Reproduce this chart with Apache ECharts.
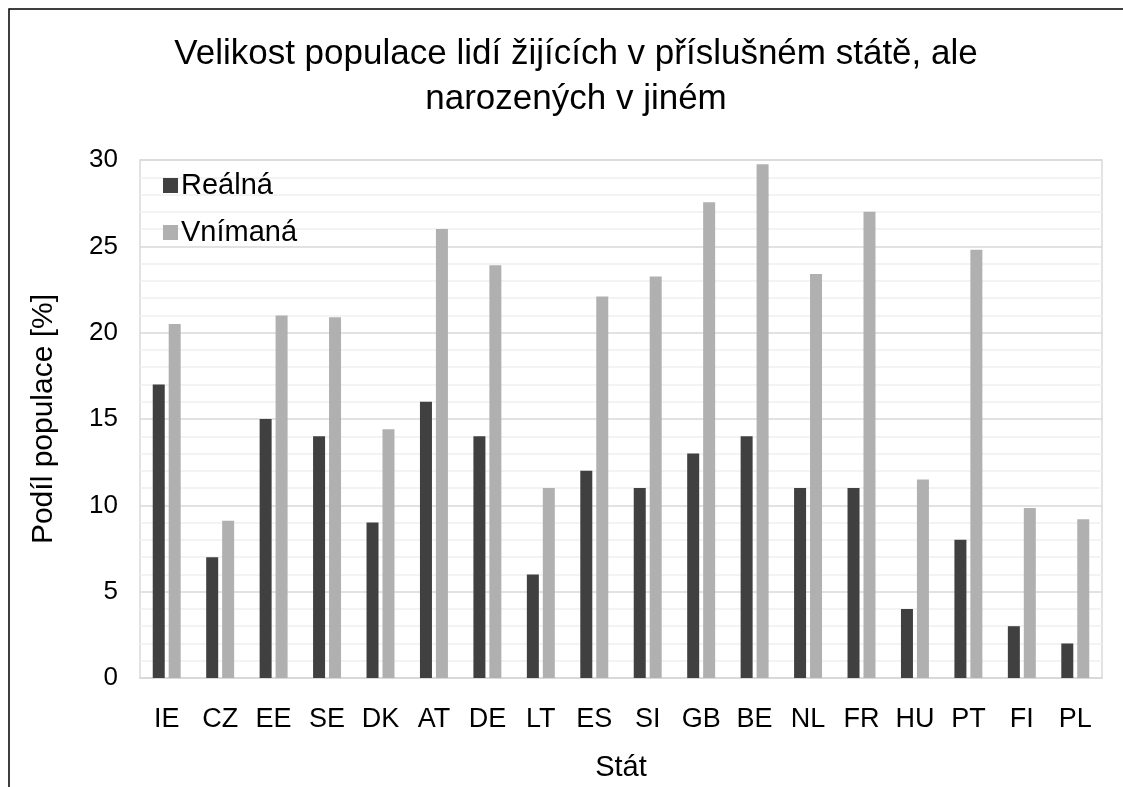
<!DOCTYPE html>
<html>
<head>
<meta charset="utf-8">
<script src="https://cdn.jsdelivr.net/npm/echarts@6/dist/echarts.min.js"></script>
<style>
  html, body { margin: 0; padding: 0; background: #fff; }
  #chart { width: 1123px; height: 787px; }
</style>
</head>
<body>
<div id="chart"></div>
<script>
// data
const states = ["IE", "CZ", "EE", "SE", "DK", "AT", "DE", "LT", "ES", "SI", "GB", "BE", "NL", "FR", "HU", "PT", "FI", "PL"];
const realna = [17, 7, 15, 14, 9, 16, 14, 6, 12, 11, 13, 14, 11, 11, 4, 8, 3, 2];
const vnimana = [20.5, 9.1, 21.0, 20.9, 14.4, 26.0, 23.9, 11.0, 22.1, 23.25, 27.55, 29.75, 23.4, 27.0, 11.5, 24.8, 9.85, 9.2];

const font = "Liberation Sans, Arial, sans-serif";
const chart = echarts.init(document.getElementById("chart"));

chart.setOption({
  backgroundColor: "#fff",
  animation: false,
  textStyle: { fontFamily: font },
  // chart frame (cut at right and bottom in the original)
  graphic: [
    {
      type: "polyline",
      shape: { points: [[9, 787], [9, 9], [1123, 9]] },
      style: { stroke: "#000", lineWidth: 1.5, fill: null },
      silent: true
    }
  ],
  title: {
    text: "Velikost populace lidí žijících v příslušném státě, ale\nnarozených v jiném",
    left: 571,
    top: 27,
    textAlign: "center",
    textStyle: {
      fontFamily: font,
      fontSize: 35,
      fontWeight: "normal",
      color: "#000",
      lineHeight: 45
    }
  },
  legend: {
    orient: "vertical",
    left: 158,
    top: 166,
    itemWidth: 15,
    itemHeight: 15,
    itemGap: 18,
    icon: "rect",
    textStyle: { fontFamily: font, fontSize: 29, color: "#000", padding: [0, 0, 0, -2] },
    data: ["Reálná", "Vnímaná"]
  },
  grid: {
    left: 140,
    right: 21,
    top: 160,
    bottom: 107,
    show: true,
    borderColor: "#d9d9d9",
    borderWidth: 1.5
  },
  xAxis: {
    type: "category",
    data: states,
    name: "Stát",
    nameLocation: "middle",
    nameGap: 75,
    nameTextStyle: { fontFamily: font, fontSize: 29, color: "#000" },
    axisTick: { show: false },
    axisLine: { lineStyle: { color: "#d9d9d9", width: 1.5 } },
    axisLabel: { fontFamily: font, fontSize: 27, color: "#000", margin: 28 }
  },
  yAxis: {
    type: "value",
    min: 0,
    max: 30,
    interval: 5,
    name: "Podíl populace [%]",
    nameLocation: "middle",
    nameGap: 81,
    nameTextStyle: { fontFamily: font, fontSize: 30, color: "#000" },
    axisLine: { show: false },
    axisTick: { show: false },
    axisLabel: { fontFamily: font, fontSize: 26, color: "#000", margin: 22 },
    splitLine: { lineStyle: { color: "#d9d9d9", width: 1.5 } },
    minorTick: { show: false, splitNumber: 5 },
    minorSplitLine: { show: true, lineStyle: { color: "#f0f0f0", width: 1.5 } }
  },
  series: [
    {
      name: "Reálná",
      type: "bar",
      data: realna,
      barWidth: 12,
      barGap: "33%",
      itemStyle: { color: "#404040" }
    },
    {
      name: "Vnímaná",
      type: "bar",
      data: vnimana,
      barWidth: 12,
      itemStyle: { color: "#b0b0b0" }
    }
  ]
});
</script>
</body>
</html>
